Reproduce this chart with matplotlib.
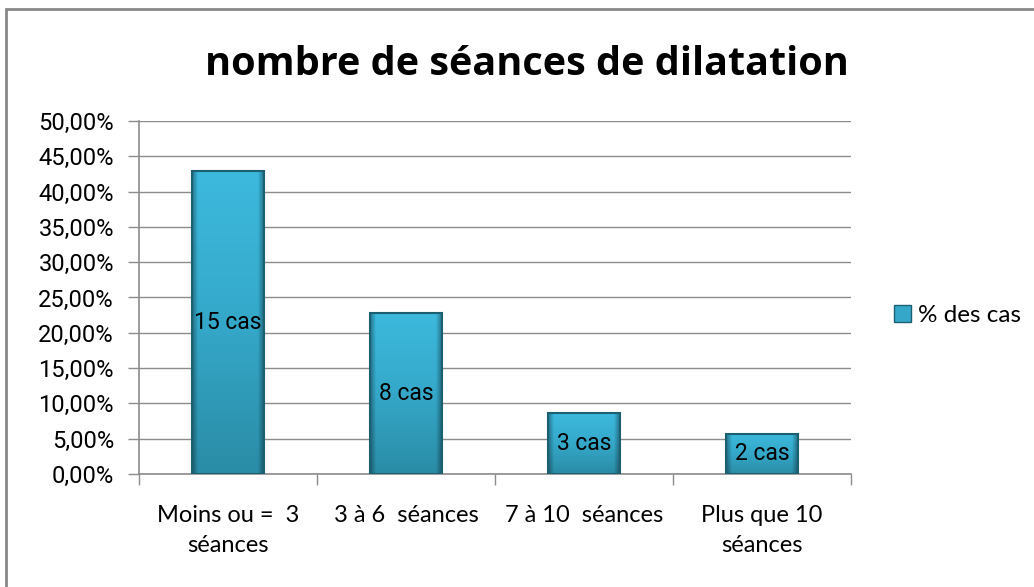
import matplotlib.pyplot as plt
import matplotlib.patches as mpatches
from matplotlib.colors import LinearSegmentedColormap
from matplotlib.ticker import MultipleLocator, FuncFormatter
import numpy as np

categories = ['Moins ou =  3\nséances', '3 à 6  séances', '7 à 10  séances', 'Plus que 10\nséances']
percentages = [42.86, 22.86, 8.57, 5.71]
bar_labels = ['15 cas', '8 cas', '3 cas', '2 cas']
series_name = '% des cas'

plt.rcParams['font.family'] = ['Roboto', 'DejaVu Sans']

fig = plt.figure(figsize=(10.34, 5.87), dpi=100)
ax = fig.add_axes([0.1344, 0.1925, 0.6886, 0.6014])

# outer chart frame (right/bottom edges fall outside the image)
fig.patches.append(mpatches.Rectangle((6 / 1034, -0.5), 2.0, 1.5 - 9 / 587,
                                      transform=fig.transFigure, fill=False,
                                      edgecolor='#888888', linewidth=2))

grad = LinearSegmentedColormap.from_list('bar', ['#2A8CA6', '#35A8C9', '#3CB9DD'])
side = LinearSegmentedColormap.from_list('side', [(0, 0, 0, 0.35), (0, 0, 0, 0)])
x = np.arange(len(categories))
width = 0.4
for xi, val, lab in zip(x, percentages, bar_labels):
    left, right = xi - width / 2, xi + width / 2
    img = np.linspace(0, 1, 100).reshape(-1, 1)
    ax.imshow(img, cmap=grad, aspect='auto', origin='lower',
              extent=[left, right, 0, val], zorder=3)
    # darker bevel on the sides
    shade = np.abs(np.linspace(-1, 1, 60)).reshape(1, -1)
    shade = np.clip((shade - 0.85) / 0.15, 0, 1)
    ax.imshow(1 - shade, cmap=side, aspect='auto', origin='lower',
              extent=[left, right, 0, val], zorder=3.5)
    ax.add_patch(mpatches.Rectangle((left, 0), width, val, fill=False,
                                    edgecolor='#1C5F70', linewidth=1.5, zorder=4))
    ax.text(xi, val / 2, lab, ha='center', va='center', fontsize=16.5, zorder=5)

ax.set_xlim(-0.5, len(categories) - 0.5)
ax.set_ylim(0, 50)
ax.yaxis.set_major_locator(MultipleLocator(5))
ax.yaxis.set_major_formatter(FuncFormatter(lambda v, p: f'{v:.2f}%'.replace('.', ',')))
ax.grid(axis='y', color='#8C8C8C', linewidth=1, zorder=0)
ax.set_axisbelow(True)

ax.set_xticks(np.arange(len(categories) + 1) - 0.5)
ax.set_xticklabels([])
ax.set_xticks(x, minor=True)
ax.set_xticklabels(categories, minor=True, fontsize=17, linespacing=1.55,
                   family=['Lato', 'DejaVu Sans'])
ax.tick_params(axis='x', which='minor', length=0, pad=22)
ax.tick_params(axis='x', which='major', length=8, color='#8C8C8C', width=1)
ax.tick_params(axis='y', length=8, color='#8C8C8C', width=1, labelsize=17, pad=10)

for s in ['top', 'right']:
    ax.spines[s].set_visible(False)
for s in ['left', 'bottom']:
    ax.spines[s].set_color('#8C8C8C')
    ax.spines[s].set_linewidth(1.2)

fig.text(0.51, 0.89, 'nombre de séances de dilatation', ha='center', va='center',
         fontsize=28.5, fontweight='bold', family=['Open Sans', 'DejaVu Sans'])

handle = mpatches.Patch(facecolor='#35A8C9', edgecolor='#1C5F70', label=series_name)
fig.legend(handles=[handle], loc='center left', bbox_to_anchor=(0.843, 0.463),
           frameon=False, handlelength=0.7, handleheight=0.7, handletextpad=0.3,
           prop={'family': ['Lato', 'DejaVu Sans'], 'size': 17.5})

fig.savefig('out.png', dpi=100, facecolor='white')
